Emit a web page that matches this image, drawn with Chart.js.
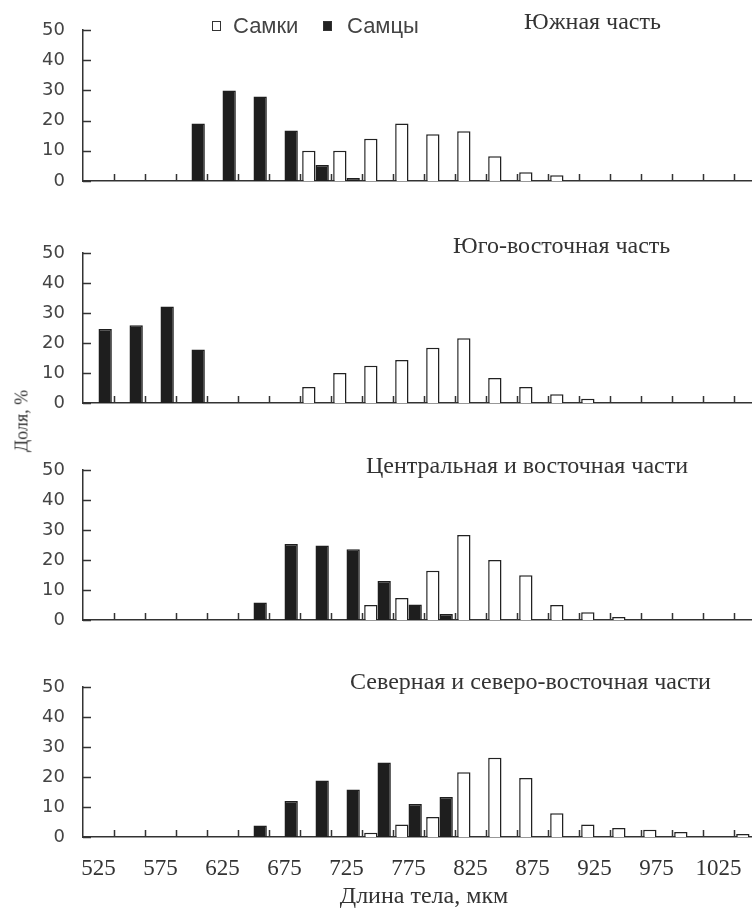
<!DOCTYPE html>
<html lang="ru">
<head>
<meta charset="utf-8">
<title>Длина тела, мкм</title>
<script src="https://cdn.jsdelivr.net/npm/chart.js@4.4.1/dist/chart.umd.min.js"></script>
<style>
  html, body { margin: 0; padding: 0; background: #fff; }
  #page { position: relative; width: 752px; height: 911px; overflow: hidden; }
  canvas { position: absolute; left: 0; }
  .ttl { position: absolute; font-family: "Liberation Serif", serif; font-size: 24px; line-height: 26px; color: #333; white-space: nowrap; }
  .leg { position: absolute; font-family: "Liberation Sans", Arial, sans-serif; font-size: 22px; line-height: 26px; color: #444; white-space: nowrap; }
  .box { position: absolute; width: 7px; height: 8px; border: 1.5px solid #333; }
  #ytitle { position: absolute; left: 22px; top: 421px; transform: translate(-50%, -50%) rotate(-90deg);
            font-family: "Liberation Serif", serif; font-size: 18px; color: #333; white-space: nowrap; }
</style>
</head>
<body>
<div id="page">
  <canvas id="p1" width="780" height="209" style="top:1px"></canvas>
  <canvas id="p2" width="780" height="208" style="top:224px"></canvas>
  <canvas id="p3" width="780" height="208" style="top:441px"></canvas>
  <canvas id="p4" width="780" height="253" style="top:658px"></canvas>

  <div class="box" style="left:212px; top:21px; background:#fff"></div>
  <div class="leg" style="left:233px; top:13px">Самки</div>
  <div class="box" style="left:323px; top:21px; background:#222"></div>
  <div class="leg" style="left:347px; top:13px">Самцы</div>

  <div class="ttl" id="t1" style="left:524px; top:8px"></div>
  <div class="ttl" id="t2" style="left:453px; top:232px"></div>
  <div class="ttl" id="t3" style="left:366px; top:452px"></div>
  <div class="ttl" id="t4" style="left:350px; top:668px"></div>

  <div id="ytitle">Доля, %</div>
</div>
<script>
// классы длины тела, мкм (шаг 25)
const lengths = [525, 550, 575, 600, 625, 650, 675, 700, 725, 750, 775, 800,
                 825, 850, 875, 900, 925, 950, 975, 1000, 1025, 1050];
const shownLabels = [525, 575, 625, 675, 725, 775, 825, 875, 925, 975, 1025];

const panelTitles = ['Южная часть', 'Юго-восточная часть',
                     'Центральная и восточная части', 'Северная и северо-восточная части'];

// доли, % (самки / самцы)
const southF = [null, null, null, null, null, null, null, 10, 10, 14, 19, 15.5, 16.5, 8.2, 2.9, 1.9, null, null, null, null, null, null];
const southM = [null, null, null, 19, 30, 28, 16.7, 5.3, 1, null, null, null, null, null, null, null, null, null, null, null, null, null];

const seF = [null, null, null, null, null, null, null, 5.3, 10, 12.4, 14.3, 18.4, 21.6, 8.3, 5.3, 2.9, 1.4, null, null, null, null, null];
const seM = [24.7, 25.9, 32.2, 17.8, null, null, null, null, null, null, null, null, null, null, null, null, null, null, null, null, null, null];

const centralF = [null, null, null, null, null, null, null, null, null, 5, 7.3, 16.4, 28.3, 20, 14.9, 5, 2.6, 1, null, null, null, null];
const centralM = [null, null, null, null, null, 5.8, 25.3, 24.8, 23.6, 13, 5.2, 2, null, null, null, null, null, null, null, null, null, null];

const northF = [null, null, null, null, null, null, null, null, null, 1.4, 4.2, 6.7, 21.6, 26.4, 19.7, 7.9, 4.2, 3, 2.4, 1.7, null, 1];
const northM = [null, null, null, null, null, 3.8, 12, 18.8, 15.8, 24.8, 11, 13.3, null, null, null, null, null, null, null, null, null, null];

panelTitles.forEach((t, i) => { document.getElementById('t' + (i + 1)).textContent = t; });

// засечки внутрь области графика, как в оригинале
const innerTicks = {
  id: 'innerTicks',
  afterDraw(chart) {
    const { ctx, scales: { x, y } } = chart;
    ctx.save();
    ctx.strokeStyle = '#333';
    ctx.lineWidth = 1.5;
    ctx.beginPath();
    y.ticks.forEach(t => {
      const py = Math.round(y.getPixelForValue(t.value)) + 0.5;
      ctx.moveTo(x.left, py);
      ctx.lineTo(x.left + 8, py);
    });
    const step = x.width / x.ticks.length;
    for (let i = 1; i < x.ticks.length; i++) {
      const px = Math.round(x.left + i * step) + 0.5;
      ctx.moveTo(px, y.bottom);
      ctx.lineTo(px, y.bottom - 7);
    }
    ctx.stroke();
    ctx.restore();
  }
};

// y tick padding (18) + half label height already gives ~29px above/below the plot
function makePanel(id, females, males, withAxis) {
  return new Chart(document.getElementById(id), {
    type: 'bar',
    data: {
      labels: lengths,
      datasets: [
        { label: 'Самки', data: females, backgroundColor: '#fff', borderColor: '#222', borderWidth: 1.5 },
        { label: 'Самцы', data: males, backgroundColor: '#1e1e1e', borderColor: '#1e1e1e', borderWidth: 1.5 }
      ]
    },
    options: {
      responsive: false,
      animation: false,
      devicePixelRatio: 1,
      layout: { padding: { top: 29, right: 15, bottom: withAxis ? 0 : 29, left: 0 } },
      datasets: { bar: { categoryPercentage: 0.86, barPercentage: 1 } },
      plugins: { legend: { display: false }, tooltip: { enabled: false } },
      scales: {
        x: {
          grid: { display: false, drawTicks: false },
          border: { color: '#333', width: 1.5 },
          ticks: {
            display: withAxis,
            autoSkip: false,
            maxRotation: 0,
            padding: 18,
            color: '#333',
            font: { family: 'Liberation Serif', size: 23 },
            callback: (v, i) => shownLabels.includes(lengths[i]) ? String(lengths[i]) : ''
          },
          title: {
            display: withAxis,
            text: 'Длина тела, мкм',
            color: '#333',
            font: { family: 'Liberation Serif', size: 24 },
            padding: 0
          },
          afterFit: s => { if (withAxis) s.height = 74; }
        },
        y: {
          min: 0,
          max: 50,
          grid: { display: false, drawTicks: false },
          border: { color: '#333', width: 1.5 },
          ticks: { stepSize: 10, padding: 18, color: '#444', font: { family: 'DejaVu Sans', size: 18 } },
          afterFit: s => { s.width = 83; }
        }
      }
    },
    plugins: [innerTicks]
  });
}

makePanel('p1', southF, southM, false);
makePanel('p2', seF, seM, false);
makePanel('p3', centralF, centralM, false);
makePanel('p4', northF, northM, true);
</script>
</body>
</html>
